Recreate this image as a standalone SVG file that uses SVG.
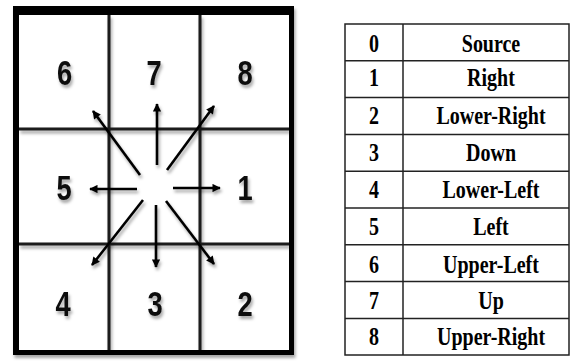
<svg xmlns="http://www.w3.org/2000/svg" width="577" height="364" viewBox="0 0 577 364">
<style>
.grid{stroke:#1a1a1a;stroke-width:3;fill:none}
.arr{stroke:#000;stroke-width:2.6;fill:none;marker-end:url(#ah)}
.dig{font-family:"Liberation Sans",Arial,sans-serif;font-weight:bold;font-size:35px;fill:#111;text-anchor:middle}
.tl{stroke:#222;stroke-width:1.5;fill:none}
.tt{font-family:"Liberation Serif","Times New Roman",serif;font-weight:bold;font-size:20px;fill:#000;text-anchor:middle}
</style>
<defs>
<filter id="sh" x="-20%" y="-20%" width="140%" height="140%">
<feDropShadow dx="1.5" dy="3" stdDeviation="1.8" flood-color="#000" flood-opacity="0.35"/>
</filter>
<marker id="ah" viewBox="0 0 10 10" refX="9" refY="5" markerWidth="3.6" markerHeight="3.2" orient="auto" markerUnits="strokeWidth">
<path d="M0,0 L10,5 L0,10 Z" fill="#000"/>
</marker>
</defs>
<rect width="577" height="364" fill="#fff"/>
<g id="grid-frame">
<rect x="13" y="6" width="281" height="349" fill="#000" filter="url(#sh)"/>
<rect x="19" y="15" width="270" height="335" fill="#fff"/>
<g class="grid" filter="url(#sh)">
<line x1="109" y1="15" x2="109" y2="350"/>
<line x1="200" y1="15" x2="200" y2="350"/>
<line x1="19" y1="129" x2="289" y2="129"/>
<line x1="19" y1="244" x2="289" y2="244"/>
</g>
</g>
<g id="cell-labels" filter="url(#sh)">
<g id="cell-6"><text class="dig" transform="translate(64.5,85) scale(0.78,1)">6</text></g>
<g id="cell-7"><text class="dig" transform="translate(154,85) scale(0.78,1)">7</text></g>
<g id="cell-8"><text class="dig" transform="translate(245,85) scale(0.78,1)">8</text></g>
<g id="cell-5"><text class="dig" transform="translate(64,200) scale(0.78,1)">5</text></g>
<g id="cell-1"><text class="dig" transform="translate(245,200) scale(0.78,1)">1</text></g>
<g id="cell-4"><text class="dig" transform="translate(63,316) scale(0.78,1)">4</text></g>
<g id="cell-3"><text class="dig" transform="translate(155,316) scale(0.78,1)">3</text></g>
<g id="cell-2"><text class="dig" transform="translate(245,316) scale(0.78,1)">2</text></g>
</g>
<g id="connectors" filter="url(#sh)">
<line class="arr" x1="157" y1="165" x2="157" y2="104"/>
<line class="arr" x1="156" y1="205" x2="156" y2="267"/>
<line class="arr" x1="173" y1="188" x2="220" y2="188"/>
<line class="arr" x1="137" y1="189" x2="90" y2="189"/>
<line class="arr" x1="140" y1="175" x2="93" y2="111"/>
<line class="arr" x1="167" y1="170" x2="214" y2="106"/>
<line class="arr" x1="143" y1="200" x2="92" y2="265"/>
<line class="arr" x1="166" y1="201" x2="214" y2="264"/>
</g>
<g id="table">
<rect class="tl" x="345" y="24" width="224" height="331"/>
<line class="tl" x1="403" y1="24" x2="403" y2="355"/>
<g class="tl">
<line x1="345" y1="60.8" x2="569" y2="60.8"/>
<line x1="345" y1="97.6" x2="569" y2="97.6"/>
<line x1="345" y1="134.4" x2="569" y2="134.4"/>
<line x1="345" y1="171.2" x2="569" y2="171.2"/>
<line x1="345" y1="208" x2="569" y2="208"/>
<line x1="345" y1="244.8" x2="569" y2="244.8"/>
<line x1="345" y1="281.6" x2="569" y2="281.6"/>
<line x1="345" y1="318.4" x2="569" y2="318.4"/>
</g>
<g id="row-0"><text class="tt" transform="translate(374,51.5) scale(1,1.25)">0</text><text class="tt" transform="translate(491,51.5) scale(1,1.25)">Source</text></g>
<g id="row-1"><text class="tt" transform="translate(374,86) scale(1,1.25)">1</text><text class="tt" transform="translate(491,86) scale(1,1.25)">Right</text></g>
<g id="row-2"><text class="tt" transform="translate(374,124) scale(1,1.25)">2</text><text class="tt" transform="translate(491,124) scale(1,1.25)">Lower-Right</text></g>
<g id="row-3"><text class="tt" transform="translate(374,161) scale(1,1.25)">3</text><text class="tt" transform="translate(491,161) scale(1,1.25)">Down</text></g>
<g id="row-4"><text class="tt" transform="translate(374,197.5) scale(1,1.25)">4</text><text class="tt" transform="translate(491,197.5) scale(1,1.25)">Lower-Left</text></g>
<g id="row-5"><text class="tt" transform="translate(374,234.5) scale(1,1.25)">5</text><text class="tt" transform="translate(491,234.5) scale(1,1.25)">Left</text></g>
<g id="row-6"><text class="tt" transform="translate(374,272.5) scale(1,1.25)">6</text><text class="tt" transform="translate(491,272.5) scale(1,1.25)">Upper-Left</text></g>
<g id="row-7"><text class="tt" transform="translate(374,308.5) scale(1,1.25)">7</text><text class="tt" transform="translate(491,308.5) scale(1,1.25)">Up</text></g>
<g id="row-8"><text class="tt" transform="translate(374,344.5) scale(1,1.25)">8</text><text class="tt" transform="translate(491,344.5) scale(1,1.25)">Upper-Right</text></g>
</g>
</svg>
